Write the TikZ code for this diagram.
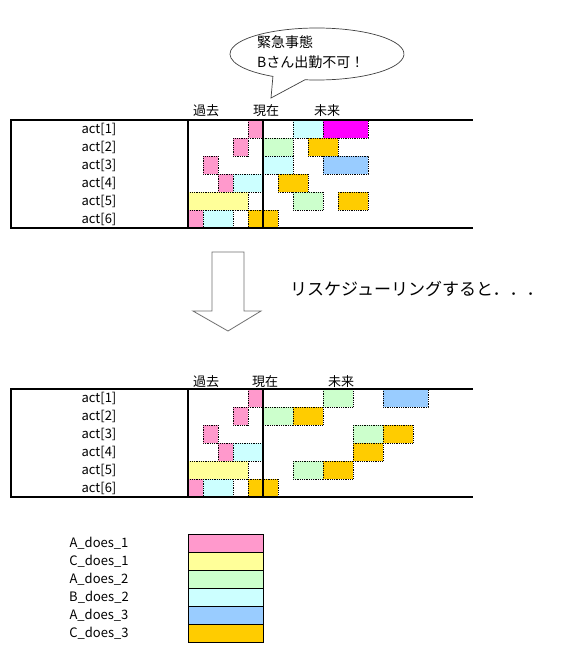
\documentclass[tikz,border=0pt]{standalone}
\usepackage{fontspec}
\setmainfont{Noto Sans CJK JP}
\definecolor{cpink}{HTML}{FF99CC}
\definecolor{cyellow}{HTML}{FFFF99}
\definecolor{cgreen}{HTML}{CCFFCC}
\definecolor{ccyan}{HTML}{CCFFFF}
\definecolor{cblue}{HTML}{99CCFF}
\definecolor{corange}{HTML}{FFCC00}
\definecolor{cmagenta}{HTML}{FF00FF}
\definecolor{arrowgray}{HTML}{707070}
\tikzset{
  cellb/.style={draw=black, dash pattern=on 0.9pt off 0.9pt, line width=0.8pt},
  legbox/.style={draw=black, line width=0.8pt},
  framel/.style={line width=2pt, line cap=rect},
  lbl/.style={font=\fontsize{13}{15}\selectfont, inner sep=0pt},
  hdr/.style={font=\fontsize{13}{15}\selectfont, inner sep=0pt},
  ctext/.style={font=\fontsize{14}{16}\selectfont, anchor=west, inner sep=0pt},
}
\newcommand\cellat[5]{\path[cellb,fill=#5] (#3,{#1+(#2-1)*18}) rectangle (#4,{#1+#2*18});}
\newcommand\tableframe[1]{%
  \draw[framel] (472,#1) -- (11,#1) -- (11,{#1+108}) -- (472,{#1+108});
  \draw[framel] (188,#1) -- (188,{#1+108});
  \draw[framel] (263,#1) -- (263,{#1+108});
}
\begin{document}
\begin{tikzpicture}[x=1pt,y=-1pt]
\useasboundingbox[fill=white] (0,0) rectangle (562,651);

% ---------- callout ----------
\draw[fill=white, line width=0.7pt, draw=black!75] (305,79.75) arc[start angle=97.9, end angle=-239.6, x radius=87, y radius=26] -- (271,98) -- cycle;
\node[ctext] (callout1) at (257,42) {緊急事態};
\node[ctext] (callout2) at (257,62) {Bさん出勤不可！};

% ---------- top table ----------
\node[hdr] (h1a) at (206,111) {過去};
\node[hdr] (h1b) at (266,111) {現在};
\node[hdr] (h1c) at (327,111) {未来};

\cellat{120}{1}{248}{263}{cpink}
\cellat{120}{1}{293}{323}{ccyan}
\cellat{120}{1}{323}{368}{cmagenta}
\cellat{120}{2}{233}{248}{cpink}
\cellat{120}{2}{263}{293}{cgreen}
\cellat{120}{2}{308}{338}{corange}
\cellat{120}{3}{203}{218}{cpink}
\cellat{120}{3}{263}{293}{ccyan}
\cellat{120}{3}{323}{368}{cblue}
\cellat{120}{4}{218}{233}{cpink}
\cellat{120}{4}{233}{263}{ccyan}
\cellat{120}{4}{278}{308}{corange}
\cellat{120}{5}{188}{248}{cyellow}
\cellat{120}{5}{293}{323}{cgreen}
\cellat{120}{5}{338}{368}{corange}
\cellat{120}{6}{188}{203}{cpink}
\cellat{120}{6}{203}{233}{ccyan}
\cellat{120}{6}{248}{278}{corange}
\tableframe{120}

\foreach \i in {1,...,6}{
  \node[lbl] (ta\i) at (99,{120+(\i-0.5)*18}) {act[\i]};
}

% ---------- arrow ----------
\draw[draw=arrowgray, fill=white, line width=0.8pt, line join=miter]
  (212,252) -- (244,252) -- (244,311) -- (261,311) -- (228,331) -- (193,311) -- (212,311) -- cycle;
\node[font=\fontsize{17}{19}\selectfont, anchor=west, inner sep=0pt] (resched) at (290,289) {リスケジューリングすると．．．};

% ---------- bottom table ----------
\node[hdr] (h2a) at (206,382) {過去};
\node[hdr] (h2b) at (265,382) {現在};
\node[hdr] (h2c) at (341,382) {未来};

\cellat{389}{1}{248}{263}{cpink}
\cellat{389}{1}{323}{353}{cgreen}
\cellat{389}{1}{383}{428}{cblue}
\cellat{389}{2}{233}{248}{cpink}
\cellat{389}{2}{263}{293}{cgreen}
\cellat{389}{2}{293}{323}{corange}
\cellat{389}{3}{203}{218}{cpink}
\cellat{389}{3}{353}{383}{cgreen}
\cellat{389}{3}{383}{413}{corange}
\cellat{389}{4}{218}{233}{cpink}
\cellat{389}{4}{233}{263}{ccyan}
\cellat{389}{4}{353}{383}{corange}
\cellat{389}{5}{188}{248}{cyellow}
\cellat{389}{5}{293}{323}{cgreen}
\cellat{389}{5}{323}{353}{corange}
\cellat{389}{6}{188}{203}{cpink}
\cellat{389}{6}{203}{233}{ccyan}
\cellat{389}{6}{248}{278}{corange}
\tableframe{389}

\foreach \i in {1,...,6}{
  \node[lbl] (ba\i) at (99,{389+(\i-0.5)*18}) {act[\i]};
}

% ---------- legend ----------
\foreach \c/\t [count=\k] in {cpink/A\_does\_1, cyellow/C\_does\_1, cgreen/A\_does\_2, ccyan/B\_does\_2, cblue/A\_does\_3, corange/C\_does\_3}{
  \path[legbox, fill=\c] (188,{534+(\k-1)*18}) rectangle (263,{534+\k*18});
  \node[lbl] (lg\k) at (99,{534+(\k-0.5)*18}) {\t};
}
\end{tikzpicture}
\end{document}
